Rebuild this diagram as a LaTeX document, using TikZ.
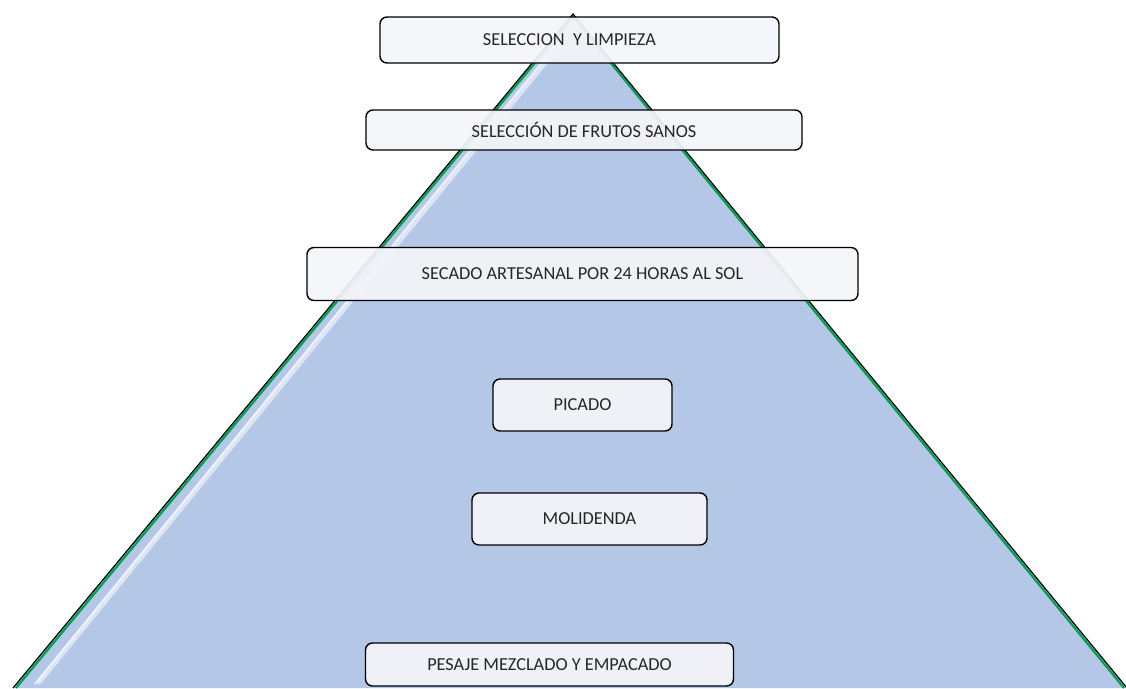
\documentclass[tikz,border=0pt]{standalone}
\usepackage{fontspec}
\setmainfont{Carlito}
\usetikzlibrary{calc}
\begin{document}
\begin{tikzpicture}[x=1pt,y=-1pt,
  stage/.style={draw=black,line width=1.4pt,rounded corners=7pt,fill=boxfill,fill opacity=0.93,text opacity=1,font=\fontsize{18.3}{21}\selectfont,text=black!85,inner sep=0pt}]
\definecolor{tri}{HTML}{B4C7E7}
\definecolor{edgegreen}{HTML}{00A050}
\definecolor{boxfill}{HTML}{F4F5F9}
\useasboundingbox (0,0) rectangle (1126,688);
% pyramid
\coordinate (apex) at (573,14);
\coordinate (bl) at (13,688);
\coordinate (br) at (1127,688);
\fill[tri] (apex) -- (bl) -- (br) -- cycle;
\draw[white,line width=5pt,opacity=0.55,line cap=round] ($(apex)+(2,12)$) -- ($(bl)+(26,-6)$);
\draw[white,line width=2pt,opacity=0.6,line cap=round] ($(apex)+(1,9)$) -- ($(bl)+(22,-4)$);
\draw[edgegreen,line width=2.2pt] ($(apex)+(0,3)$) -- ($(bl)+(3,0)$);
\draw[edgegreen,line width=2.2pt] ($(apex)+(0,3)$) -- ($(br)+(-3,0)$);
\draw[black,line width=1.2pt] (bl) -- (apex) -- (br);
% stages
\node[stage,minimum width=399pt,minimum height=46pt] (s1) at (579.5,40) {SELECCION\ \ Y LIMPIEZA\hspace*{20pt}};
\node[stage,minimum width=436pt,minimum height=40pt] (s2) at (584,130) {SELECCIÓN DE FRUTOS SANOS};
\node[stage,minimum width=551pt,minimum height=53pt] (s3) at (582.5,274) {SECADO ARTESANAL POR 24 HORAS AL SOL};
\node[stage,minimum width=179pt,minimum height=52pt] (s4) at (582.5,405) {PICADO};
\node[stage,minimum width=235pt,minimum height=52pt] (s5) at (589.5,519) {MOLIDENDA};
\node[stage,minimum width=368pt,minimum height=43pt] (s6) at (549.5,664.5) {PESAJE MEZCLADO Y EMPACADO};
\end{tikzpicture}
\end{document}
